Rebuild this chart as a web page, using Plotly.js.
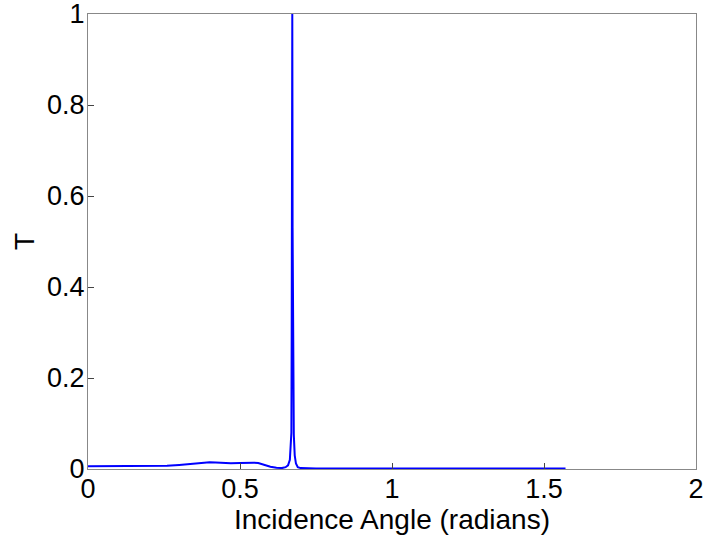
<!DOCTYPE html>
<html>
<head>
<meta charset="utf-8">
<script src="https://cdn.plot.ly/plotly-3.0.1.min.js"></script>
<style>html,body{margin:0;padding:0;background:#fff;}#plot{width:706px;height:539px;}</style>
</head>
<body>
<div id="plot"></div>
<script>
// Incidence angle (radians) and transmission T
const angle = [0.000, 0.100, 0.200, 0.260, 0.300, 0.340, 0.380, 0.400, 0.420, 0.450, 0.470, 0.500, 0.530, 0.545, 0.560, 0.580, 0.600, 0.620, 0.638, 0.650, 0.658, 0.664, 0.667, 0.669, 0.670, 0.671, 0.6715, 0.672, 0.6725, 0.673, 0.674, 0.675, 0.677, 0.680, 0.684, 0.690, 0.700, 0.750, 0.900, 1.100, 1.300, 1.500, 1.5708];
const T     = [0.006, 0.006, 0.006, 0.007, 0.009, 0.012, 0.014, 0.015, 0.0145, 0.013, 0.0125, 0.013, 0.014, 0.014, 0.013, 0.009, 0.005, 0.003, 0.002, 0.004, 0.008, 0.02, 0.064, 0.08, 0.29, 0.53, 0.80, 1.0, 0.80, 0.53, 0.30, 0.12, 0.075, 0.03, 0.012, 0.004, 0.002, 0.0012, 0.001, 0.001, 0.001, 0.001, 0.001];
const xTicks = [0, 0.5, 1, 1.5, 2];
const xTickText = ['0', '0.5', '1', '1.5', '2'];
const yTicks = [0, 0.2, 0.4, 0.6, 0.8, 1];
const yTickText = ['0', '0.2', '0.4', '0.6', '0.8', '1'];

const family = 'Liberation Sans, Arial, Helvetica, sans-serif';
const tickFont = {family: family, size: 27, color: '#000'};
const titleFont = {family: family, size: 28, color: '#000'};

Plotly.newPlot('plot', [{
  x: angle, y: T, type: 'scatter', mode: 'lines',
  line: {color: '#0000ff', width: 2},
  hoverinfo: 'skip'
}], {
  width: 706, height: 539,
  margin: {l: 88, r: 10, t: 14, b: 70, pad: 0},
  paper_bgcolor: '#fff', plot_bgcolor: '#fff',
  showlegend: false,
  font: tickFont,
  xaxis: {
    range: [0, 2], tickvals: xTicks, ticktext: xTickText,
    ticks: 'inside', ticklen: 6, tickcolor: '#444', tickwidth: 1,
    showline: true, mirror: true, linecolor: '#888', linewidth: 1,
    showgrid: false, zeroline: false,
    tickfont: tickFont, ticklabeloverflow: 'allow', ticklabelstandoff: -4,
    title: {text: 'Incidence Angle (radians)', font: titleFont, standoff: 0}
  },
  yaxis: {
    range: [0, 1], tickvals: yTicks, ticktext: yTickText,
    ticks: 'inside', ticklen: 6, tickcolor: '#444', tickwidth: 1,
    showline: true, mirror: true, linecolor: '#888', linewidth: 1,
    showgrid: false, zeroline: false,
    tickfont: tickFont, ticklabeloverflow: 'allow', ticklabelstandoff: -3,
    title: {text: 'T', font: titleFont, standoff: 4}
  }
}, {staticPlot: true});
</script>
</body>
</html>
